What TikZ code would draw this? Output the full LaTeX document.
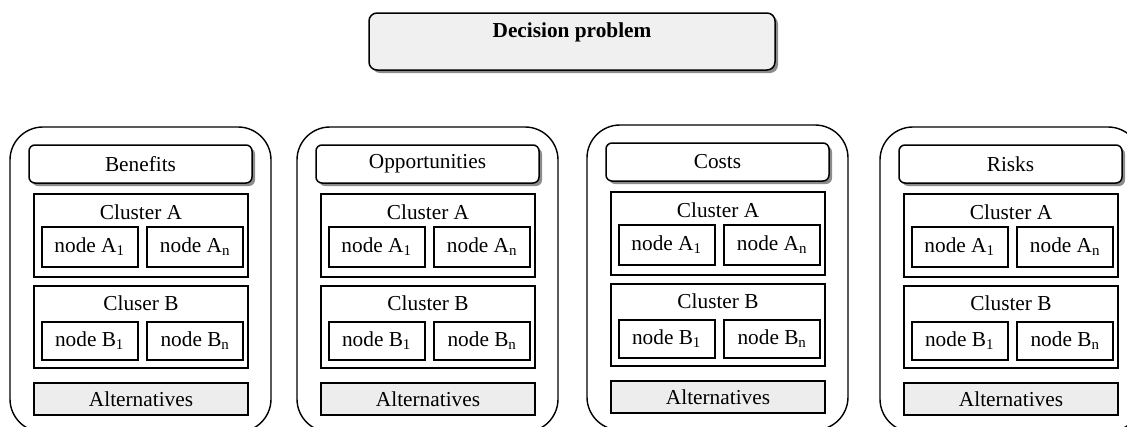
\documentclass[tikz,border=0pt]{standalone}
\usepackage{fontspec}
\setmainfont{Liberation Serif}
\usetikzlibrary{shadows}
\definecolor{boxgray}{HTML}{F0F0F0}
\definecolor{altgray}{HTML}{EDEDED}
\definecolor{shadowgray}{HTML}{8C8C8C}
\tikzset{
  txt/.style={font=\fontsize{21.3}{25}\selectfont, inner sep=0pt},
  shadowed/.style={drop shadow={shadow xshift=3pt, shadow yshift=-3pt, fill=shadowgray, opacity=1}},
  topbox/.style={draw, line width=1.5pt, rounded corners=8pt, fill=boxgray, shadowed,
    minimum width=406pt, minimum height=57pt, inner sep=0pt},
  panelbox/.style={draw, line width=1.4pt, rounded corners=33pt,
    minimum width=261pt, minimum height=305pt, inner sep=0pt},
  headbox/.style={draw, line width=1.5pt, rounded corners=6pt, fill=white, shadowed,
    minimum width=223pt, minimum height=38pt, inner sep=0pt, txt},
  clusterbox/.style={draw, line width=2pt, minimum width=214pt, inner sep=0pt},
  elembox/.style={draw, line width=2pt, minimum width=96pt, inner sep=0pt, txt},
  altbox/.style={draw, line width=1.6pt, fill=altgray, minimum width=214pt,
    minimum height=32pt, inner sep=0pt, txt},
}
\begin{document}
\begin{tikzpicture}[x=1pt, y=-1pt]
  \useasboundingbox (0,0) rectangle (1127,426);
  \clip (0,0) rectangle (1127,426);

  % top-level goal
  \node[topbox] (goal) at (572,41.5) {};
  \node[txt, font=\fontsize{21.3}{25}\selectfont\bfseries] (goaltext) at (572,32) {Decision problem};

  % one BOCR merit per column
  \foreach \i/\L/\dy/\merit/\clb in {1/10/0/Benefits/Cluser B,
                                      2/297/0/Opportunities/Cluster B,
                                      3/587/-2/Costs/Cluster B,
                                      4/880/0/Risks/Cluster B}{
    \begin{scope}[shift={(\L,\dy)}]
      \node[panelbox] (panel\i) at (130.5,279.5) {};
      \node[headbox] (merit\i) at (130.5,164) {\merit};

      % cluster A
      \node[clusterbox, minimum height=83pt] (clA\i) at (131,235.5) {};
      \node[txt] (clAlbl\i) at (131,212) {Cluster A};
      \node[elembox, minimum height=40pt] (nA1\i) at (79.5,247) {node A\textsubscript{1}};
      \node[elembox, minimum height=40pt] (nAn\i) at (185,247) {node A\textsubscript{n}};

      % cluster B
      \node[clusterbox, minimum height=82pt] (clB\i) at (131,327) {};
      \node[txt] (clBlbl\i) at (131,303) {\clb};
      \node[elembox, minimum height=38pt] (nB1\i) at (79.5,341) {node B\textsubscript{1}};
      \node[elembox, minimum height=38pt] (nBn\i) at (185,341) {node B\textsubscript{n}};

      % alternatives
      \node[altbox] (alt\i) at (131,399) {Alternatives};
    \end{scope}
  }
\end{tikzpicture}
\end{document}
